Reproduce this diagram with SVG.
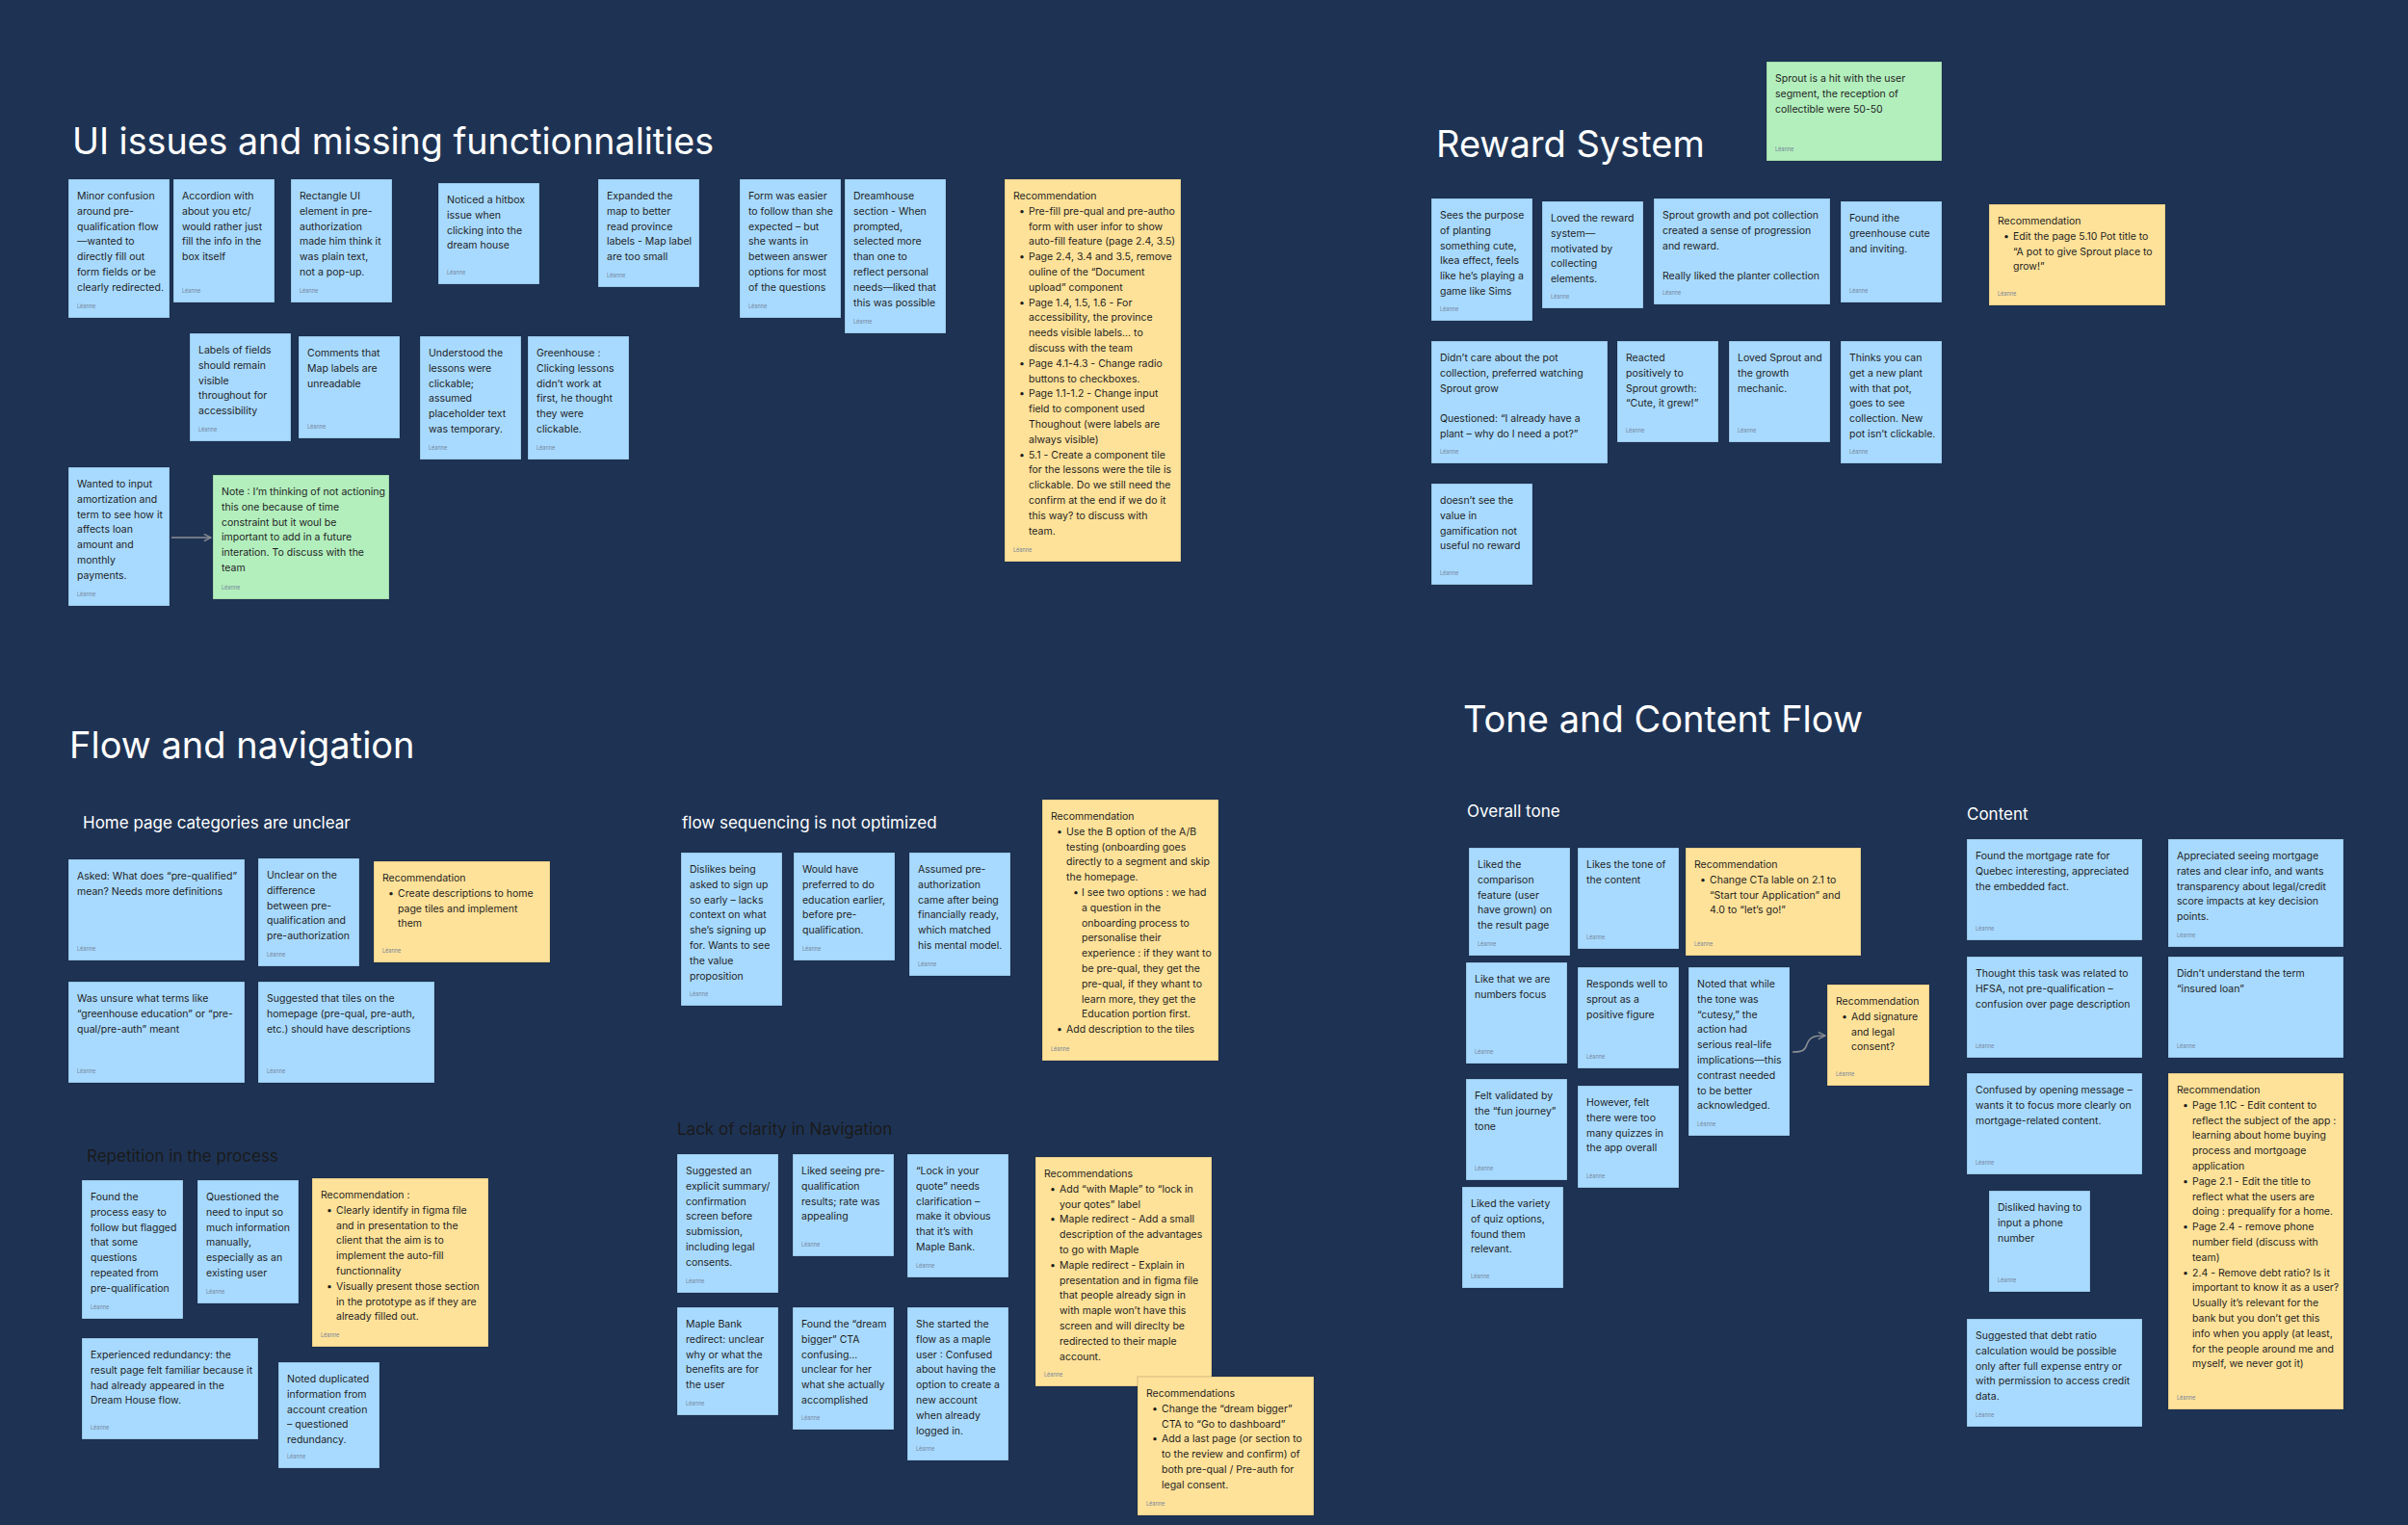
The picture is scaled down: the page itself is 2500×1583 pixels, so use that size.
<svg xmlns="http://www.w3.org/2000/svg" width="2500" height="1583" viewBox="0 0 2500 1583">
<defs>
<style>
.bg{fill:#1E3354}
.blue{fill:#A8DAFF;stroke:rgba(0,0,0,0.18);stroke-width:1}
.yellow{fill:#FFE299;stroke:rgba(0,0,0,0.18);stroke-width:1}
.green{fill:#B3EFBD;stroke:rgba(0,0,0,0.18);stroke-width:1}
text{font-family:Inter,"Liberation Sans",sans-serif}
.t{font-size:10.5px;fill:#1E1E1E}
.a{font-size:5.5px;fill:#75869A}
.h1{font-size:38px;fill:#FFFFFF}
.h2{font-size:17px;fill:#FFFFFF}
.h2d{font-size:17px;fill:#1A1A1A}
.conn{fill:none;stroke:#8C8F94;stroke-width:1.5}
</style>
<marker id="arr" viewBox="0 0 10 10" refX="9" refY="5" markerWidth="9" markerHeight="9" orient="auto" markerUnits="userSpaceOnUse">
<path d="M1,1 L9,5 L1,9" fill="none" stroke="#8C8F94" stroke-width="1.5"/>
</marker>
</defs>
<rect class="bg" x="0" y="0" width="2500" height="1583"/>

<g id="titles">
<text class="h1" x="75" y="160" style="font-size:37.6px">UI issues and missing functionnalities</text>
<text class="h1" x="1491" y="163">Reward System</text>
<text class="h1" x="72" y="787">Flow and navigation</text>
<text class="h1" x="1519" y="760">Tone and Content Flow</text>
<text class="h2" x="86" y="860">Home page categories are unclear</text>
<text class="h2" x="708" y="860">flow sequencing is not optimized</text>
<text class="h2d" x="90" y="1206">Repetition in the process</text>
<text class="h2d" x="703" y="1178">Lack of clarity in Navigation</text>
<text class="h2" x="1523" y="848">Overall tone</text>
<text class="h2" x="2042" y="851">Content</text>
</g>

<g id="connectors">
<path class="conn" d="M178,558 L219,558" marker-end="url(#arr)"/>
<path class="conn" d="M1861,1092 C1872,1092 1874,1090 1876,1084 C1879,1076 1884,1075 1895,1075" marker-end="url(#arr)"/>
</g>

<!-- UI issues -->
<g id="u1" transform="translate(71,186)"><rect class="blue" width="105" height="144"/>
<text class="t"><tspan x="9" y="21">Minor confusion</tspan><tspan x="9" y="36.8">around pre-</tspan><tspan x="9" y="52.6">qualification flow</tspan><tspan x="9" y="68.4">—wanted to</tspan><tspan x="9" y="84.2">directly fill out</tspan><tspan x="9" y="100">form fields or be</tspan><tspan x="9" y="115.8">clearly redirected.</tspan></text>
<text class="a" x="9" y="134">Léanne</text></g>
<g id="u2" transform="translate(180,186)"><rect class="blue" width="105" height="128"/>
<text class="t"><tspan x="9" y="21">Accordion with</tspan><tspan x="9" y="36.8">about you etc/</tspan><tspan x="9" y="52.6">would rather just</tspan><tspan x="9" y="68.4">fill the info in the</tspan><tspan x="9" y="84.2">box itself</tspan></text>
<text class="a" x="9" y="118">Léanne</text></g>
<g id="u3" transform="translate(302,186)"><rect class="blue" width="105" height="128"/>
<text class="t"><tspan x="9" y="21">Rectangle UI</tspan><tspan x="9" y="36.8">element in pre-</tspan><tspan x="9" y="52.6">authorization</tspan><tspan x="9" y="68.4">made him think it</tspan><tspan x="9" y="84.2">was plain text,</tspan><tspan x="9" y="100">not a pop-up.</tspan></text>
<text class="a" x="9" y="118">Léanne</text></g>
<g id="u4" transform="translate(455,190)"><rect class="blue" width="105" height="105"/>
<text class="t"><tspan x="9" y="21">Noticed a hitbox</tspan><tspan x="9" y="36.8">issue when</tspan><tspan x="9" y="52.6">clicking into the</tspan><tspan x="9" y="68.4">dream house</tspan></text>
<text class="a" x="9" y="95">Léanne</text></g>
<g id="u5" transform="translate(621,186)"><rect class="blue" width="105" height="112"/>
<text class="t"><tspan x="9" y="21">Expanded the</tspan><tspan x="9" y="36.8">map to better</tspan><tspan x="9" y="52.6">read province</tspan><tspan x="9" y="68.4">labels - Map label</tspan><tspan x="9" y="84.2">are too small</tspan></text>
<text class="a" x="9" y="102">Léanne</text></g>
<g id="u6" transform="translate(768,186)"><rect class="blue" width="105" height="144"/>
<text class="t"><tspan x="9" y="21">Form was easier</tspan><tspan x="9" y="36.8">to follow than she</tspan><tspan x="9" y="52.6">expected – but</tspan><tspan x="9" y="68.4">she wants in</tspan><tspan x="9" y="84.2">between answer</tspan><tspan x="9" y="100">options for most</tspan><tspan x="9" y="115.8">of the questions</tspan></text>
<text class="a" x="9" y="134">Léanne</text></g>
<g id="u7" transform="translate(877,186)"><rect class="blue" width="105" height="160"/>
<text class="t"><tspan x="9" y="21">Dreamhouse</tspan><tspan x="9" y="36.8">section - When</tspan><tspan x="9" y="52.6">prompted,</tspan><tspan x="9" y="68.4">selected more</tspan><tspan x="9" y="84.2">than one to</tspan><tspan x="9" y="100">reflect personal</tspan><tspan x="9" y="115.8">needs—liked that</tspan><tspan x="9" y="131.6">this was possible</tspan></text>
<text class="a" x="9" y="150">Léanne</text></g>
<g id="u8" transform="translate(1043,186)"><rect class="yellow" width="183" height="397"/>
<text class="t"><tspan x="9" y="21">Recommendation</tspan>
<tspan x="15" y="36.8">•</tspan><tspan x="25" y="36.8">Pre-fill pre-qual and pre-autho</tspan><tspan x="25" y="52.6">form with user infor to show</tspan><tspan x="25" y="68.4">auto-fill feature (page 2.4, 3.5)</tspan>
<tspan x="15" y="84.2">•</tspan><tspan x="25" y="84.2">Page 2.4, 3.4 and 3.5, remove</tspan><tspan x="25" y="100">ouline of the “Document</tspan><tspan x="25" y="115.8">upload” component</tspan>
<tspan x="15" y="131.6">•</tspan><tspan x="25" y="131.6">Page 1.4, 1.5, 1.6 - For</tspan><tspan x="25" y="147.4">accessibility, the province</tspan><tspan x="25" y="163.2">needs visible labels... to</tspan><tspan x="25" y="179">discuss with the team</tspan>
<tspan x="15" y="194.8">•</tspan><tspan x="25" y="194.8">Page 4.1-4.3 - Change radio</tspan><tspan x="25" y="210.6">buttons to checkboxes.</tspan>
<tspan x="15" y="226.4">•</tspan><tspan x="25" y="226.4">Page 1.1-1.2 - Change input</tspan><tspan x="25" y="242.2">field to component used</tspan><tspan x="25" y="258">Thoughout (were labels are</tspan><tspan x="25" y="273.8">always visible)</tspan>
<tspan x="15" y="289.6">•</tspan><tspan x="25" y="289.6">5.1 - Create a component tile</tspan><tspan x="25" y="305.4">for the lessons were the tile is</tspan><tspan x="25" y="321.2">clickable. Do we still need the</tspan><tspan x="25" y="337">confirm at the end if we do it</tspan><tspan x="25" y="352.8">this way? to discuss with</tspan><tspan x="25" y="368.6">team.</tspan></text>
<text class="a" x="9" y="387">Léanne</text></g>
<g id="u9" transform="translate(197,346)"><rect class="blue" width="105" height="112"/>
<text class="t"><tspan x="9" y="21">Labels of fields</tspan><tspan x="9" y="36.8">should remain</tspan><tspan x="9" y="52.6">visible</tspan><tspan x="9" y="68.4">throughout for</tspan><tspan x="9" y="84.2">accessibility</tspan></text>
<text class="a" x="9" y="102">Léanne</text></g>
<g id="u10" transform="translate(310,349)"><rect class="blue" width="105" height="106"/>
<text class="t"><tspan x="9" y="21">Comments that</tspan><tspan x="9" y="36.8">Map labels are</tspan><tspan x="9" y="52.6">unreadable</tspan></text>
<text class="a" x="9" y="96">Léanne</text></g>
<g id="u11" transform="translate(436,349)"><rect class="blue" width="105" height="128"/>
<text class="t"><tspan x="9" y="21">Understood the</tspan><tspan x="9" y="36.8">lessons were</tspan><tspan x="9" y="52.6">clickable;</tspan><tspan x="9" y="68.4">assumed</tspan><tspan x="9" y="84.2">placeholder text</tspan><tspan x="9" y="100">was temporary.</tspan></text>
<text class="a" x="9" y="118">Léanne</text></g>
<g id="u12" transform="translate(548,349)"><rect class="blue" width="105" height="128"/>
<text class="t"><tspan x="9" y="21">Greenhouse :</tspan><tspan x="9" y="36.8">Clicking lessons</tspan><tspan x="9" y="52.6">didn’t work at</tspan><tspan x="9" y="68.4">first, he thought</tspan><tspan x="9" y="84.2">they were</tspan><tspan x="9" y="100">clickable.</tspan></text>
<text class="a" x="9" y="118">Léanne</text></g>
<g id="u13" transform="translate(71,485)"><rect class="blue" width="105" height="144"/>
<text class="t"><tspan x="9" y="21">Wanted to input</tspan><tspan x="9" y="36.8">amortization and</tspan><tspan x="9" y="52.6">term to see how it</tspan><tspan x="9" y="68.4">affects loan</tspan><tspan x="9" y="84.2">amount and</tspan><tspan x="9" y="100">monthly</tspan><tspan x="9" y="115.8">payments.</tspan></text>
<text class="a" x="9" y="134">Léanne</text></g>
<g id="u14" transform="translate(221,493)"><rect class="green" width="183" height="129"/>
<text class="t"><tspan x="9" y="21">Note : I’m thinking of not actioning</tspan><tspan x="9" y="36.8">this one because of time</tspan><tspan x="9" y="52.6">constraint but it woul be</tspan><tspan x="9" y="68.4">important to add in a future</tspan><tspan x="9" y="84.2">interation. To discuss with the</tspan><tspan x="9" y="100">team</tspan></text>
<text class="a" x="9" y="119">Léanne</text></g>

<!-- Reward System -->
<g id="r0" transform="translate(1834,64)"><rect class="green" width="182" height="103"/>
<text class="t"><tspan x="9" y="21">Sprout is a hit with the user</tspan><tspan x="9" y="36.8">segment, the reception of</tspan><tspan x="9" y="52.6">collectible were 50-50</tspan></text>
<text class="a" x="9" y="93">Léanne</text></g>
<g id="r1" transform="translate(1486,206)"><rect class="blue" width="105" height="127"/>
<text class="t"><tspan x="9" y="21">Sees the purpose</tspan><tspan x="9" y="36.8">of planting</tspan><tspan x="9" y="52.6">something cute,</tspan><tspan x="9" y="68.4">Ikea effect, feels</tspan><tspan x="9" y="84.2">like he’s playing a</tspan><tspan x="9" y="100">game like Sims</tspan></text>
<text class="a" x="9" y="117">Léanne</text></g>
<g id="r2" transform="translate(1601,209)"><rect class="blue" width="105" height="111"/>
<text class="t"><tspan x="9" y="21">Loved the reward</tspan><tspan x="9" y="36.8">system—</tspan><tspan x="9" y="52.6">motivated by</tspan><tspan x="9" y="68.4">collecting</tspan><tspan x="9" y="84.2">elements.</tspan></text>
<text class="a" x="9" y="101">Léanne</text></g>
<g id="r3" transform="translate(1717,206)"><rect class="blue" width="183" height="110"/>
<text class="t"><tspan x="9" y="21">Sprout growth and pot collection</tspan><tspan x="9" y="36.8">created a sense of progression</tspan><tspan x="9" y="52.6">and reward.</tspan><tspan x="9" y="84.2">Really liked the planter collection</tspan></text>
<text class="a" x="9" y="100">Léanne</text></g>
<g id="r4" transform="translate(1911,209)"><rect class="blue" width="105" height="105"/>
<text class="t"><tspan x="9" y="21">Found ithe</tspan><tspan x="9" y="36.8">greenhouse cute</tspan><tspan x="9" y="52.6">and inviting.</tspan></text>
<text class="a" x="9" y="95">Léanne</text></g>
<g id="r5" transform="translate(2065,212)"><rect class="yellow" width="183" height="105"/>
<text class="t"><tspan x="9" y="21">Recommendation</tspan><tspan x="15" y="36.8">•</tspan><tspan x="25" y="36.8">Edit the page 5.10 Pot title to</tspan><tspan x="25" y="52.6">“A pot to give Sprout place to</tspan><tspan x="25" y="68.4">grow!”</tspan></text>
<text class="a" x="9" y="95">Léanne</text></g>
<g id="r6" transform="translate(1486,354)"><rect class="blue" width="183" height="127"/>
<text class="t"><tspan x="9" y="21">Didn’t care about the pot</tspan><tspan x="9" y="36.8">collection, preferred watching</tspan><tspan x="9" y="52.6">Sprout grow</tspan><tspan x="9" y="84.2">Questioned: “I already have a</tspan><tspan x="9" y="100">plant – why do I need a pot?”</tspan></text>
<text class="a" x="9" y="117">Léanne</text></g>
<g id="r7" transform="translate(1679,354)"><rect class="blue" width="105" height="105"/>
<text class="t"><tspan x="9" y="21">Reacted</tspan><tspan x="9" y="36.8">positively to</tspan><tspan x="9" y="52.6">Sprout growth:</tspan><tspan x="9" y="68.4">“Cute, it grew!”</tspan></text>
<text class="a" x="9" y="95">Léanne</text></g>
<g id="r8" transform="translate(1795,354)"><rect class="blue" width="105" height="105"/>
<text class="t"><tspan x="9" y="21">Loved Sprout and</tspan><tspan x="9" y="36.8">the growth</tspan><tspan x="9" y="52.6">mechanic.</tspan></text>
<text class="a" x="9" y="95">Léanne</text></g>
<g id="r9" transform="translate(1911,354)"><rect class="blue" width="105" height="127"/>
<text class="t"><tspan x="9" y="21">Thinks you can</tspan><tspan x="9" y="36.8">get a new plant</tspan><tspan x="9" y="52.6">with that pot,</tspan><tspan x="9" y="68.4">goes to see</tspan><tspan x="9" y="84.2">collection. New</tspan><tspan x="9" y="100">pot isn’t clickable.</tspan></text>
<text class="a" x="9" y="117">Léanne</text></g>
<g id="r10" transform="translate(1486,502)"><rect class="blue" width="105" height="105"/>
<text class="t"><tspan x="9" y="21">doesn’t see the</tspan><tspan x="9" y="36.8">value in</tspan><tspan x="9" y="52.6">gamification not</tspan><tspan x="9" y="68.4">useful no reward</tspan></text>
<text class="a" x="9" y="95">Léanne</text></g>

<!-- Flow: home page -->
<g id="f1" transform="translate(71,892)"><rect class="blue" width="183" height="105"/>
<text class="t"><tspan x="9" y="21">Asked: What does “pre-qualified”</tspan><tspan x="9" y="36.8">mean? Needs more definitions</tspan></text>
<text class="a" x="9" y="95">Léanne</text></g>
<g id="f2" transform="translate(268,891)"><rect class="blue" width="105" height="112"/>
<text class="t"><tspan x="9" y="21">Unclear on the</tspan><tspan x="9" y="36.8">difference</tspan><tspan x="9" y="52.6">between pre-</tspan><tspan x="9" y="68.4">qualification and</tspan><tspan x="9" y="84.2">pre-authorization</tspan></text>
<text class="a" x="9" y="102">Léanne</text></g>
<g id="f3" transform="translate(388,894)"><rect class="yellow" width="183" height="105"/>
<text class="t"><tspan x="9" y="21">Recommendation</tspan><tspan x="15" y="36.8">•</tspan><tspan x="25" y="36.8">Create descriptions to home</tspan><tspan x="25" y="52.6">page tiles and implement</tspan><tspan x="25" y="68.4">them</tspan></text>
<text class="a" x="9" y="95">Léanne</text></g>
<g id="f4" transform="translate(71,1019)"><rect class="blue" width="183" height="105"/>
<text class="t"><tspan x="9" y="21">Was unsure what terms like</tspan><tspan x="9" y="36.8">“greenhouse education” or “pre-</tspan><tspan x="9" y="52.6">qual/pre-auth” meant</tspan></text>
<text class="a" x="9" y="95">Léanne</text></g>
<g id="f5" transform="translate(268,1019)"><rect class="blue" width="183" height="105"/>
<text class="t"><tspan x="9" y="21">Suggested that tiles on the</tspan><tspan x="9" y="36.8">homepage (pre-qual, pre-auth,</tspan><tspan x="9" y="52.6">etc.) should have descriptions</tspan></text>
<text class="a" x="9" y="95">Léanne</text></g>

<!-- Flow: sequencing -->
<g id="s1" transform="translate(707,885)"><rect class="blue" width="105" height="159"/>
<text class="t"><tspan x="9" y="21">Dislikes being</tspan><tspan x="9" y="36.8">asked to sign up</tspan><tspan x="9" y="52.6">so early – lacks</tspan><tspan x="9" y="68.4">context on what</tspan><tspan x="9" y="84.2">she’s signing up</tspan><tspan x="9" y="100">for. Wants to see</tspan><tspan x="9" y="115.8">the value</tspan><tspan x="9" y="131.6">proposition</tspan></text>
<text class="a" x="9" y="149">Léanne</text></g>
<g id="s2" transform="translate(824,885)"><rect class="blue" width="105" height="112"/>
<text class="t"><tspan x="9" y="21">Would have</tspan><tspan x="9" y="36.8">preferred to do</tspan><tspan x="9" y="52.6">education earlier,</tspan><tspan x="9" y="68.4">before pre-</tspan><tspan x="9" y="84.2">qualification.</tspan></text>
<text class="a" x="9" y="102">Léanne</text></g>
<g id="s3" transform="translate(944,885)"><rect class="blue" width="105" height="128"/>
<text class="t"><tspan x="9" y="21">Assumed pre-</tspan><tspan x="9" y="36.8">authorization</tspan><tspan x="9" y="52.6">came after being</tspan><tspan x="9" y="68.4">financially ready,</tspan><tspan x="9" y="84.2">which matched</tspan><tspan x="9" y="100">his mental model.</tspan></text>
<text class="a" x="9" y="118">Léanne</text></g>
<g id="s4" transform="translate(1082,830)"><rect class="yellow" width="183" height="271"/>
<text class="t"><tspan x="9" y="21">Recommendation</tspan>
<tspan x="15" y="36.8">•</tspan><tspan x="25" y="36.8">Use the B option of the A/B</tspan><tspan x="25" y="52.6">testing (onboarding goes</tspan><tspan x="25" y="68.4">directly to a segment and skip</tspan><tspan x="25" y="84.2">the homepage.</tspan>
<tspan x="32" y="100">•</tspan><tspan x="41" y="100">I see two options : we had</tspan><tspan x="41" y="115.8">a question in the</tspan><tspan x="41" y="131.6">onboarding process to</tspan><tspan x="41" y="147.4">personalise their</tspan><tspan x="41" y="163.2">experience : if they want to</tspan><tspan x="41" y="179">be pre-qual, they get the</tspan><tspan x="41" y="194.8">pre-qual, if they whant to</tspan><tspan x="41" y="210.6">learn more, they get the</tspan><tspan x="41" y="226.4">Education portion first.</tspan>
<tspan x="15" y="242.2">•</tspan><tspan x="25" y="242.2">Add description to the tiles</tspan></text>
<text class="a" x="9" y="261">Léanne</text></g>

<!-- Flow: repetition -->
<g id="p1" transform="translate(85,1225)"><rect class="blue" width="105" height="144"/>
<text class="t"><tspan x="9" y="21">Found the</tspan><tspan x="9" y="36.8">process easy to</tspan><tspan x="9" y="52.6">follow but flagged</tspan><tspan x="9" y="68.4">that some</tspan><tspan x="9" y="84.2">questions</tspan><tspan x="9" y="100">repeated from</tspan><tspan x="9" y="115.8">pre-qualification</tspan></text>
<text class="a" x="9" y="134">Léanne</text></g>
<g id="p2" transform="translate(205,1225)"><rect class="blue" width="105" height="128"/>
<text class="t"><tspan x="9" y="21">Questioned the</tspan><tspan x="9" y="36.8">need to input so</tspan><tspan x="9" y="52.6">much information</tspan><tspan x="9" y="68.4">manually,</tspan><tspan x="9" y="84.2">especially as an</tspan><tspan x="9" y="100">existing user</tspan></text>
<text class="a" x="9" y="118">Léanne</text></g>
<g id="p3" transform="translate(324,1223)"><rect class="yellow" width="183" height="175"/>
<text class="t"><tspan x="9" y="21">Recommendation :</tspan>
<tspan x="15" y="36.8">•</tspan><tspan x="25" y="36.8">Clearly identify in figma file</tspan><tspan x="25" y="52.6">and in presentation to the</tspan><tspan x="25" y="68.4">client that the aim is to</tspan><tspan x="25" y="84.2">implement the auto-fill</tspan><tspan x="25" y="100">functionnality</tspan>
<tspan x="15" y="115.8">•</tspan><tspan x="25" y="115.8">Visually present those section</tspan><tspan x="25" y="131.6">in the prototype as if they are</tspan><tspan x="25" y="147.4">already filled out.</tspan></text>
<text class="a" x="9" y="165">Léanne</text></g>
<g id="p4" transform="translate(85,1389)"><rect class="blue" width="183" height="105"/>
<text class="t"><tspan x="9" y="21">Experienced redundancy: the</tspan><tspan x="9" y="36.8">result page felt familiar because it</tspan><tspan x="9" y="52.6">had already appeared in the</tspan><tspan x="9" y="68.4">Dream House flow.</tspan></text>
<text class="a" x="9" y="95">Léanne</text></g>
<g id="p5" transform="translate(289,1414)"><rect class="blue" width="105" height="110"/>
<text class="t"><tspan x="9" y="21">Noted duplicated</tspan><tspan x="9" y="36.8">information from</tspan><tspan x="9" y="52.6">account creation</tspan><tspan x="9" y="68.4">– questioned</tspan><tspan x="9" y="84.2">redundancy.</tspan></text>
<text class="a" x="9" y="100">Léanne</text></g>

<!-- Flow: navigation -->
<g id="n1" transform="translate(703,1198)"><rect class="blue" width="105" height="144"/>
<text class="t"><tspan x="9" y="21">Suggested an</tspan><tspan x="9" y="36.8">explicit summary/</tspan><tspan x="9" y="52.6">confirmation</tspan><tspan x="9" y="68.4">screen before</tspan><tspan x="9" y="84.2">submission,</tspan><tspan x="9" y="100">including legal</tspan><tspan x="9" y="115.8">consents.</tspan></text>
<text class="a" x="9" y="134">Léanne</text></g>
<g id="n2" transform="translate(823,1198)"><rect class="blue" width="105" height="106"/>
<text class="t"><tspan x="9" y="21">Liked seeing pre-</tspan><tspan x="9" y="36.8">qualification</tspan><tspan x="9" y="52.6">results; rate was</tspan><tspan x="9" y="68.4">appealing</tspan></text>
<text class="a" x="9" y="96">Léanne</text></g>
<g id="n3" transform="translate(942,1198)"><rect class="blue" width="105" height="128"/>
<text class="t"><tspan x="9" y="21">“Lock in your</tspan><tspan x="9" y="36.8">quote” needs</tspan><tspan x="9" y="52.6">clarification –</tspan><tspan x="9" y="68.4">make it obvious</tspan><tspan x="9" y="84.2">that it’s with</tspan><tspan x="9" y="100">Maple Bank.</tspan></text>
<text class="a" x="9" y="118">Léanne</text></g>
<g id="n4" transform="translate(1075,1201)"><rect class="yellow" width="183" height="238"/>
<text class="t"><tspan x="9" y="21">Recommendations</tspan>
<tspan x="15" y="36.8">•</tspan><tspan x="25" y="36.8">Add “with Maple” to “lock in</tspan><tspan x="25" y="52.6">your qotes” label</tspan>
<tspan x="15" y="68.4">•</tspan><tspan x="25" y="68.4">Maple redirect - Add a small</tspan><tspan x="25" y="84.2">description of the advantages</tspan><tspan x="25" y="100">to go with Maple</tspan>
<tspan x="15" y="115.8">•</tspan><tspan x="25" y="115.8">Maple redirect - Explain in</tspan><tspan x="25" y="131.6">presentation and in figma file</tspan><tspan x="25" y="147.4">that people already sign in</tspan><tspan x="25" y="163.2">with maple won’t have this</tspan><tspan x="25" y="179">screen and will direclty be</tspan><tspan x="25" y="194.8">redirected to their maple</tspan><tspan x="25" y="210.6">account.</tspan></text>
<text class="a" x="9" y="228">Léanne</text></g>
<g id="n5" transform="translate(703,1357)"><rect class="blue" width="105" height="112"/>
<text class="t"><tspan x="9" y="21">Maple Bank</tspan><tspan x="9" y="36.8">redirect: unclear</tspan><tspan x="9" y="52.6">why or what the</tspan><tspan x="9" y="68.4">benefits are for</tspan><tspan x="9" y="84.2">the user</tspan></text>
<text class="a" x="9" y="102">Léanne</text></g>
<g id="n6" transform="translate(823,1357)"><rect class="blue" width="105" height="127"/>
<text class="t"><tspan x="9" y="21">Found the “dream</tspan><tspan x="9" y="36.8">bigger” CTA</tspan><tspan x="9" y="52.6">confusing...</tspan><tspan x="9" y="68.4">unclear for her</tspan><tspan x="9" y="84.2">what she actually</tspan><tspan x="9" y="100">accomplished</tspan></text>
<text class="a" x="9" y="117">Léanne</text></g>
<g id="n7" transform="translate(942,1357)"><rect class="blue" width="105" height="159"/>
<text class="t"><tspan x="9" y="21">She started the</tspan><tspan x="9" y="36.8">flow as a maple</tspan><tspan x="9" y="52.6">user : Confused</tspan><tspan x="9" y="68.4">about having the</tspan><tspan x="9" y="84.2">option to create a</tspan><tspan x="9" y="100">new account</tspan><tspan x="9" y="115.8">when already</tspan><tspan x="9" y="131.6">logged in.</tspan></text>
<text class="a" x="9" y="149">Léanne</text></g>
<g id="n8" transform="translate(1181,1429)"><rect class="yellow" width="183" height="144"/>
<text class="t"><tspan x="9" y="21">Recommendations</tspan>
<tspan x="15" y="36.8">•</tspan><tspan x="25" y="36.8">Change the “dream bigger”</tspan><tspan x="25" y="52.6">CTA to “Go to dashboard”</tspan>
<tspan x="15" y="68.4">•</tspan><tspan x="25" y="68.4">Add a last page (or section to</tspan><tspan x="25" y="84.2">to the review and confirm) of</tspan><tspan x="25" y="100">both pre-qual / Pre-auth for</tspan><tspan x="25" y="115.8">legal consent.</tspan></text>
<text class="a" x="9" y="134">Léanne</text></g>

<!-- Tone: overall -->
<g id="t1" transform="translate(1525,880)"><rect class="blue" width="105" height="112"/>
<text class="t"><tspan x="9" y="21">Liked the</tspan><tspan x="9" y="36.8">comparison</tspan><tspan x="9" y="52.6">feature (user</tspan><tspan x="9" y="68.4">have grown) on</tspan><tspan x="9" y="84.2">the result page</tspan></text>
<text class="a" x="9" y="102">Léanne</text></g>
<g id="t2" transform="translate(1638,880)"><rect class="blue" width="105" height="105"/>
<text class="t"><tspan x="9" y="21">Likes the tone of</tspan><tspan x="9" y="36.8">the content</tspan></text>
<text class="a" x="9" y="95">Léanne</text></g>
<g id="t3" transform="translate(1750,880)"><rect class="yellow" width="182" height="112"/>
<text class="t"><tspan x="9" y="21">Recommendation</tspan><tspan x="15" y="36.8">•</tspan><tspan x="25" y="36.8">Change CTa lable on 2.1 to</tspan><tspan x="25" y="52.6">“Start tour Application” and</tspan><tspan x="25" y="68.4">4.0 to “let’s go!”</tspan></text>
<text class="a" x="9" y="102">Léanne</text></g>
<g id="t4" transform="translate(1522,999)"><rect class="blue" width="105" height="105"/>
<text class="t"><tspan x="9" y="21">Like that we are</tspan><tspan x="9" y="36.8">numbers focus</tspan></text>
<text class="a" x="9" y="95">Léanne</text></g>
<g id="t5" transform="translate(1638,1004)"><rect class="blue" width="105" height="105"/>
<text class="t"><tspan x="9" y="21">Responds well to</tspan><tspan x="9" y="36.8">sprout as a</tspan><tspan x="9" y="52.6">positive figure</tspan></text>
<text class="a" x="9" y="95">Léanne</text></g>
<g id="t6" transform="translate(1753,1004)"><rect class="blue" width="105" height="175"/>
<text class="t"><tspan x="9" y="21">Noted that while</tspan><tspan x="9" y="36.8">the tone was</tspan><tspan x="9" y="52.6">“cutesy,” the</tspan><tspan x="9" y="68.4">action had</tspan><tspan x="9" y="84.2">serious real-life</tspan><tspan x="9" y="100">implications—this</tspan><tspan x="9" y="115.8">contrast needed</tspan><tspan x="9" y="131.6">to be better</tspan><tspan x="9" y="147.4">acknowledged.</tspan></text>
<text class="a" x="9" y="165">Léanne</text></g>
<g id="t7" transform="translate(1897,1022)"><rect class="yellow" width="106" height="105"/>
<text class="t"><tspan x="9" y="21">Recommendation</tspan><tspan x="15" y="36.8">•</tspan><tspan x="25" y="36.8">Add signature</tspan><tspan x="25" y="52.6">and legal</tspan><tspan x="25" y="68.4">consent?</tspan></text>
<text class="a" x="9" y="95">Léanne</text></g>
<g id="t8" transform="translate(1522,1120)"><rect class="blue" width="105" height="105"/>
<text class="t"><tspan x="9" y="21">Felt validated by</tspan><tspan x="9" y="36.8">the “fun journey”</tspan><tspan x="9" y="52.6">tone</tspan></text>
<text class="a" x="9" y="95">Léanne</text></g>
<g id="t9" transform="translate(1638,1127)"><rect class="blue" width="105" height="106"/>
<text class="t"><tspan x="9" y="21">However, felt</tspan><tspan x="9" y="36.8">there were too</tspan><tspan x="9" y="52.6">many quizzes in</tspan><tspan x="9" y="68.4">the app overall</tspan></text>
<text class="a" x="9" y="96">Léanne</text></g>
<g id="t10" transform="translate(1518,1232)"><rect class="blue" width="105" height="105"/>
<text class="t"><tspan x="9" y="21">Liked the variety</tspan><tspan x="9" y="36.8">of quiz options,</tspan><tspan x="9" y="52.6">found them</tspan><tspan x="9" y="68.4">relevant.</tspan></text>
<text class="a" x="9" y="95">Léanne</text></g>

<!-- Tone: content -->
<g id="c1" transform="translate(2042,871)"><rect class="blue" width="182" height="105"/>
<text class="t"><tspan x="9" y="21">Found the mortgage rate for</tspan><tspan x="9" y="36.8">Quebec interesting, appreciated</tspan><tspan x="9" y="52.6">the embedded fact.</tspan></text>
<text class="a" x="9" y="95">Léanne</text></g>
<g id="c2" transform="translate(2251,871)"><rect class="blue" width="182" height="112"/>
<text class="t"><tspan x="9" y="21">Appreciated seeing mortgage</tspan><tspan x="9" y="36.8">rates and clear info, and wants</tspan><tspan x="9" y="52.6">transparency about legal/credit</tspan><tspan x="9" y="68.4">score impacts at key decision</tspan><tspan x="9" y="84.2">points.</tspan></text>
<text class="a" x="9" y="102">Léanne</text></g>
<g id="c3" transform="translate(2042,993)"><rect class="blue" width="182" height="105"/>
<text class="t"><tspan x="9" y="21">Thought this task was related to</tspan><tspan x="9" y="36.8">HFSA, not pre-qualification –</tspan><tspan x="9" y="52.6">confusion over page description</tspan></text>
<text class="a" x="9" y="95">Léanne</text></g>
<g id="c4" transform="translate(2251,993)"><rect class="blue" width="182" height="105"/>
<text class="t"><tspan x="9" y="21">Didn’t understand the term</tspan><tspan x="9" y="36.8">“insured loan”</tspan></text>
<text class="a" x="9" y="95">Léanne</text></g>
<g id="c5" transform="translate(2042,1114)"><rect class="blue" width="182" height="105"/>
<text class="t"><tspan x="9" y="21">Confused by opening message –</tspan><tspan x="9" y="36.8">wants it to focus more clearly on</tspan><tspan x="9" y="52.6">mortgage-related content.</tspan></text>
<text class="a" x="9" y="95">Léanne</text></g>
<g id="c6" transform="translate(2065,1236)"><rect class="blue" width="105" height="105"/>
<text class="t"><tspan x="9" y="21">Disliked having to</tspan><tspan x="9" y="36.8">input a phone</tspan><tspan x="9" y="52.6">number</tspan></text>
<text class="a" x="9" y="95">Léanne</text></g>
<g id="c7" transform="translate(2042,1369)"><rect class="blue" width="182" height="112"/>
<text class="t"><tspan x="9" y="21">Suggested that debt ratio</tspan><tspan x="9" y="36.8">calculation would be possible</tspan><tspan x="9" y="52.6">only after full expense entry or</tspan><tspan x="9" y="68.4">with permission to access credit</tspan><tspan x="9" y="84.2">data.</tspan></text>
<text class="a" x="9" y="102">Léanne</text></g>
<g id="c8" transform="translate(2251,1114)"><rect class="yellow" width="182" height="349"/>
<text class="t"><tspan x="9" y="21">Recommendation</tspan>
<tspan x="15" y="36.8">•</tspan><tspan x="25" y="36.8">Page 1.1C - Edit content to</tspan><tspan x="25" y="52.6">reflect the subject of the app :</tspan><tspan x="25" y="68.4">learning about home buying</tspan><tspan x="25" y="84.2">process and mortgoage</tspan><tspan x="25" y="100">application</tspan>
<tspan x="15" y="115.8">•</tspan><tspan x="25" y="115.8">Page 2.1 - Edit the title to</tspan><tspan x="25" y="131.6">reflect what the users are</tspan><tspan x="25" y="147.4">doing : prequalify for a home.</tspan>
<tspan x="15" y="163.2">•</tspan><tspan x="25" y="163.2">Page 2.4 - remove phone</tspan><tspan x="25" y="179">number field (discuss with</tspan><tspan x="25" y="194.8">team)</tspan>
<tspan x="15" y="210.6">•</tspan><tspan x="25" y="210.6">2.4 - Remove debt ratio? Is it</tspan><tspan x="25" y="226.4">important to know it as a user?</tspan><tspan x="25" y="242.2">Usually it’s relevant for the</tspan><tspan x="25" y="258">bank but you don’t get this</tspan><tspan x="25" y="273.8">info when you apply (at least,</tspan><tspan x="25" y="289.6">for the people around me and</tspan><tspan x="25" y="305.4">myself, we never got it)</tspan></text>
<text class="a" x="9" y="339">Léanne</text></g>
</svg>
